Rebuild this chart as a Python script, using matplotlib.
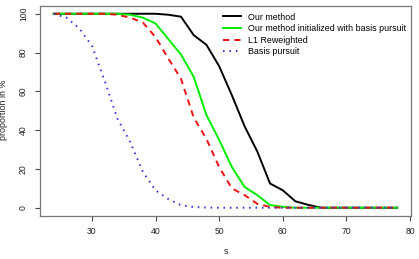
import matplotlib
matplotlib.use("Agg")
import matplotlib.pyplot as plt

plt.rcParams['font.family'] = ['Liberation Sans', 'DejaVu Sans']

s = [24, 26, 28, 30, 32, 34, 36, 38, 40, 42, 44, 46, 48, 50, 52, 54,
     56, 58, 60, 62, 64, 66, 68, 70, 72, 74, 76, 78]
our_method = [100, 100, 100, 100, 100, 100, 100, 100, 100, 99.5, 98.5, 89, 84, 73, 58, 42,
              29, 12.5, 9, 3.3, 1.5, 0, 0, 0, 0, 0, 0, 0]
our_method_bp = [100, 100, 100, 100, 100, 100, 99.5, 98, 95, 87, 79, 67.5, 47.8, 35, 21, 10.7,
                 6.5, 1.4, 0.5, 0, 0, 0, 0, 0, 0, 0, 0, 0]
l1_reweighted = [100, 100, 100, 100, 100, 99.5, 98, 95.5, 88, 77, 66.5, 46.5, 35.5, 21, 10, 6.5,
                 2, 0.4, 0, 0, 0, 0, 0, 0, 0, 0, 0, 0]
basis_pursuit = [100, 98, 92.5, 83.5, 65.5, 46, 34, 18.6, 9, 4.5, 1.3, 0.4, 0.1, 0, 0, 0,
                 0, 0, 0, 0, 0, 0, 0, 0, 0, 0, 0, 0]
labels = ["Our method", "Our method initialized with basis pursuit",
          "L1 Reweighted", "Basis pursuit"]
xticks = [30, 40, 50, 60, 70, 80]
yticks = [0, 20, 40, 60, 80, 100]

W, H = 419, 259
fig = plt.figure(figsize=(W / 100, H / 100), dpi=100)
ax = fig.add_axes([40 / W, 1 - 215.5 / H, (411 - 40) / W, (215.5 - 6) / H])

ax.plot(s, our_method, color='black', lw=1.4, label=labels[0])
ax.plot(s, our_method_bp, color='#00ee00', lw=1.4, label=labels[1])
ax.plot(s, l1_reweighted, color='#ee1111', lw=1.4, linestyle=(0, (3.2, 2.6)), label=labels[2])
ax.plot(s, basis_pursuit, color='#3333dd', lw=1.4, linestyle=(0, (0.8, 2.5)), label=labels[3])

rng = max(s) - min(s)
ax.set_xlim(min(s) - 0.04 * rng, max(s) + 0.04 * rng)
ax.set_ylim(-4, 104)
ax.set_xticks(xticks)
ax.set_yticks(yticks)
ax.set_xticklabels([str(v) for v in xticks], fontsize=6.2)
ax.set_yticklabels([str(v) for v in yticks], fontsize=6.2, rotation=90, va='center')
ax.tick_params(direction='out', length=3.6, width=0.8, colors='#444444', labelcolor='#222222')
ax.tick_params(axis='x', pad=4.5)
ax.tick_params(axis='y', pad=5)

for sp in ax.spines.values():
    sp.set_color('#777777')
    sp.set_linewidth(0.9)

leg = ax.legend(loc='upper left', bbox_to_anchor=((223 - 40) / (411 - 40), 1 - (12.5 - 6) / (215.5 - 6)),
                frameon=False, fontsize=6.4, handlelength=2.0, handletextpad=0.8,
                labelspacing=0.3, borderaxespad=0, borderpad=0)

fig.text(225.5 / W, 1 - 252 / H, "s", fontsize=6.4, ha='center', va='center', color='#222222')
fig.text(4 / W, 1 - 110 / H, "proportion in %", fontsize=6.4, rotation=90,
         ha='center', va='center', color='#222222')

fig.savefig("out.png", dpi=100)
